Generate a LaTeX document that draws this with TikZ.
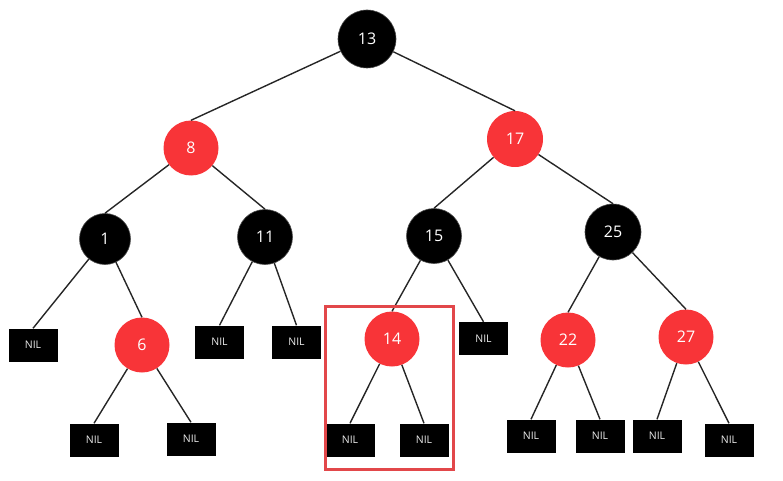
\documentclass[tikz,border=0pt]{standalone}
\usepackage{fontspec}
\setmainfont{Open Sans}
\definecolor{rbred}{HTML}{F83438}
\definecolor{hlred}{HTML}{E2474A}
\definecolor{edgegray}{HTML}{262626}
\begin{document}
\begin{tikzpicture}[x=1pt, y=-1pt,
    blacknode/.style={circle, fill=black, draw=black!70, line width=0.6pt, inner sep=0pt,
      minimum size=55pt, text=white, font=\fontsize{16}{16}\selectfont},
    rednode/.style={circle, fill=rbred, inner sep=0pt, minimum size=55pt,
      text=white, font=\fontsize{16}{16}\selectfont},
    nilbox/.style={rectangle, fill=black, inner sep=0pt, minimum width=49pt,
      minimum height=33pt, text=white!92!black, font=\fontsize{10.5}{10.5}\selectfont},
    edge/.style={draw=edgegray, line width=1.4pt}]
  \useasboundingbox (0,0) rectangle (783,481);
  % inner nodes
  \node[blacknode, minimum size=58pt] (n13) at (367,39) {13};
  \node[rednode] (n8) at (191,148) {8};
  \node[rednode, minimum size=56pt] (n17) at (515,139) {17};
  \node[blacknode, minimum size=51pt] (n1) at (105,239) {1};
  \node[blacknode] (n11) at (265,237) {11};
  \node[blacknode] (n15) at (434,236) {15};
  \node[blacknode, minimum size=56pt] (n25) at (613,232) {25};
  \node[rednode] (n6) at (142,345) {6};
  \node[rednode] (n14) at (392,339) {14};
  \node[rednode] (n22) at (568,340) {22};
  \node[rednode] (n27) at (686,337) {27};
  % leaves
  \node[nilbox] (nilA) at (33,345) {NIL};
  \node[nilbox] (nilB) at (219.5,342) {NIL};
  \node[nilbox] (nilC) at (296.5,342) {NIL};
  \node[nilbox] (nilD) at (483.5,338.5) {NIL};
  \node[nilbox] (nilE) at (94,440) {NIL};
  \node[nilbox] (nilF) at (191,439) {NIL};
  \node[nilbox] (nilG) at (350,440) {NIL};
  \node[nilbox] (nilH) at (424,440) {NIL};
  \node[nilbox] (nilI) at (531,436) {NIL};
  \node[nilbox] (nilJ) at (600,436) {NIL};
  \node[nilbox] (nilK) at (657,436) {NIL};
  \node[nilbox] (nilL) at (729,440) {NIL};
  % edges
  \draw[edge] (n13) -- (n8.north);
  \draw[edge] (n13) -- (n17.north);
  \draw[edge] (n8) -- (n1.north);
  \draw[edge] (n8) -- (n11.north);
  \draw[edge] (n17) -- (n15.north);
  \draw[edge] (n17) -- (n25.north);
  \draw[edge] (n1) -- (nilA.north);
  \draw[edge] (n1) -- (n6.north);
  \draw[edge] (n11) -- (nilB.north);
  \draw[edge] (n11) -- (nilC.north);
  \draw[edge] (n15) -- (n14.north);
  \draw[edge] (n15) -- (nilD.north);
  \draw[edge] (n25) -- (n22.north);
  \draw[edge] (n25) -- (n27.north);
  \draw[edge] (n6) -- (nilE.north);
  \draw[edge] (n6) -- (nilF.north);
  \draw[edge] (n14) -- (nilG.north);
  \draw[edge] (n14) -- (nilH.north);
  \draw[edge] (n22) -- (nilI.north);
  \draw[edge] (n22) -- (nilJ.north);
  \draw[edge] (n27) -- (nilK.north);
  \draw[edge] (n27) -- (nilL.north);
  % highlighted subtree
  \draw[hlred, line width=2.8pt] (325.5,306.5) rectangle (453.5,469.5);
\end{tikzpicture}
\end{document}
